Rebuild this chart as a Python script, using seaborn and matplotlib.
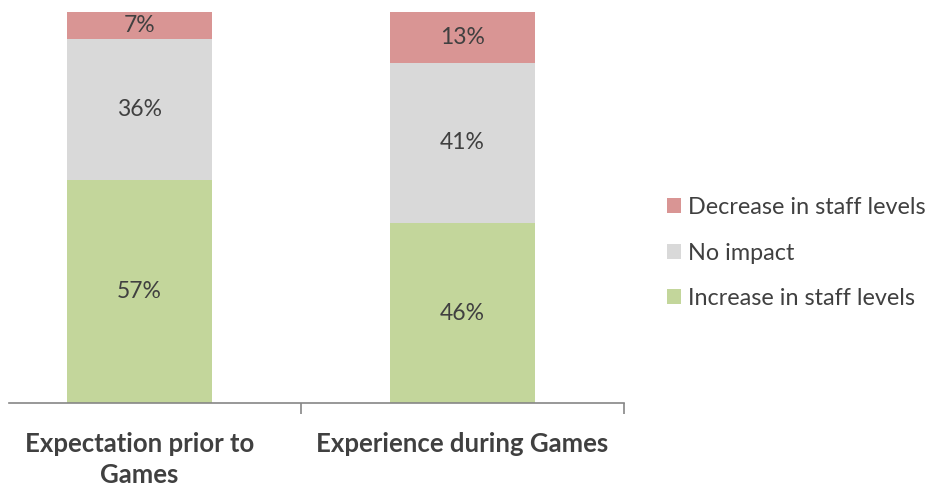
import matplotlib
matplotlib.use("Agg")
import matplotlib.pyplot as plt
import seaborn as sns
import pandas as pd
import numpy as np
from matplotlib.patches import Patch

categories = ["Expectation prior to\nGames", "Experience during Games"]
increase = [57, 46]
no_impact = [36, 41]
decrease = [7, 13]

colors = {"Increase in staff levels": "#C3D69B",
          "No impact": "#D9D9D9",
          "Decrease in staff levels": "#D99594"}

sns.set_theme(style="white")
plt.rcParams["font.family"] = ["Lato", "DejaVu Sans"]
text_color = "#404040"

fig = plt.figure(figsize=(9.33, 4.91), dpi=100)
ax = fig.add_axes([9 / 933, 1 - 403 / 491, 615 / 933, 391 / 491])

# cumulative tops, drawn from the tallest layer down so each overlays the previous
inc = np.array(increase)
mid = inc + np.array(no_impact)
top = mid + np.array(decrease)
layers = [("Decrease in staff levels", top), ("No impact", mid), ("Increase in staff levels", inc)]
for name, vals in layers:
    df = pd.DataFrame({"cat": categories, "val": vals})
    sns.barplot(data=df, x="cat", y="val", color=colors[name], width=0.448,
                saturation=1, ax=ax, errorbar=None, linewidth=0)

# segment labels
for i in range(len(categories)):
    bottoms = [0, inc[i], mid[i]]
    heights = [increase[i], no_impact[i], decrease[i]]
    for b, h in zip(bottoms, heights):
        ax.text(i, b + h / 2, f"{h}%", ha="center", va="center",
                fontsize=16.5, color=text_color)

ax.set_xlim(-0.403, 1.5)
ax.set_ylim(0, 100)
ax.set_xlabel("")
ax.set_ylabel("")
ax.set_yticks([])
for s in ["left", "right", "top"]:
    ax.spines[s].set_visible(False)
ax.spines["bottom"].set_color("#868686")
ax.spines["bottom"].set_linewidth(1.2)

ax.set_xticks([0, 1])
ax.set_xticklabels(categories, fontsize=18.5, fontweight="bold", color=text_color,
                   linespacing=1.35)
ax.tick_params(axis="x", which="major", length=0, pad=21)
ax.set_xticks([0.5, 1.5], minor=True)
ax.tick_params(axis="x", which="minor", length=8, width=1.2, color="#868686",
               direction="out", bottom=True)

legend_order = ["Decrease in staff levels", "No impact", "Increase in staff levels"]
handles = [Patch(facecolor=colors[n], edgecolor="none") for n in legend_order]
fig.legend(handles, legend_order, loc="center left",
           bbox_to_anchor=(667 / 933, 1 - 253 / 491),
           frameon=False, fontsize=16.8, handlelength=0.62, handleheight=0.62,
           handletextpad=0.28, labelspacing=1.05, borderpad=0, borderaxespad=0,
           labelcolor=text_color)

fig.savefig("out.png", dpi=100)
